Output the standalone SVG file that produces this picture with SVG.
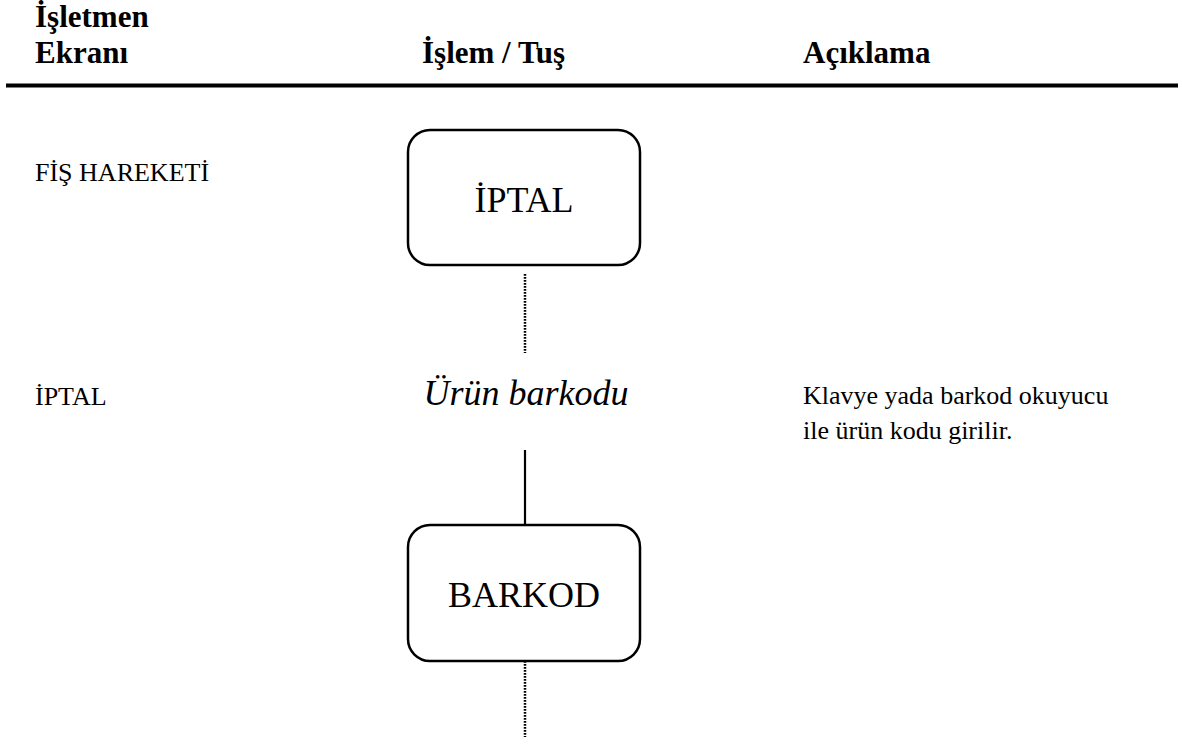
<svg xmlns="http://www.w3.org/2000/svg" width="1182" height="745" viewBox="0 0 1182 745">
<style>
  .h { font-family: "Liberation Serif", "Times New Roman", serif; font-weight: bold; font-size: 31px; fill: #000; }
  .t { font-family: "Liberation Serif", "Times New Roman", serif; font-size: 26px; fill: #000; }
  .big { font-family: "Liberation Serif", "Times New Roman", serif; font-size: 36px; fill: #000; }
  .it { font-family: "Liberation Serif", "Times New Roman", serif; font-size: 36px; font-style: italic; fill: #000; }
  .box { fill: #fff; stroke: #000; stroke-width: 2.5; }
  .solid { stroke: #000; stroke-width: 2.2; fill: none; }
  .dot { stroke: #000; stroke-width: 2.5; stroke-dasharray: 1.8 1.2; fill: none; }
</style>
<rect x="0" y="0" width="1182" height="745" fill="#fff"/>
<g id="header">
  <text class="h" x="35" y="27">İşletmen</text>
  <text class="h" x="35" y="63">Ekranı</text>
  <text class="h" x="422" y="63">İşlem / Tuş</text>
  <text class="h" x="803" y="63">Açıklama</text>
  <line x1="6" y1="85.5" x2="1178" y2="85.5" stroke="#000" stroke-width="4"/>
</g>
<g id="labels">
  <text class="t" x="35" y="181">FİŞ HAREKETİ</text>
  <text class="t" x="35" y="405">İPTAL</text>
  <text class="t" x="803" y="404">Klavye yada barkod okuyucu</text>
  <text class="t" x="803" y="439">ile ürün kodu girilir.</text>
</g>
<g id="connectors">
  <line class="dot" x1="525" y1="274" x2="525" y2="353"/>
  <line class="solid" x1="525" y1="450" x2="525" y2="525"/>
  <line class="dot" x1="525" y1="661" x2="525" y2="737"/>
</g>
<g id="node-iptal">
  <rect class="box" x="408" y="130" width="232" height="135" rx="22" ry="22"/>
  <text class="big" x="524" y="212" text-anchor="middle">İPTAL</text>
</g>
<g id="node-urun-barkodu">
  <text class="it" x="526" y="405" text-anchor="middle">Ürün barkodu</text>
</g>
<g id="node-barkod">
  <rect class="box" x="408" y="525" width="232" height="136" rx="22" ry="22"/>
  <text class="big" x="524" y="607" text-anchor="middle">BARKOD</text>
</g>
</svg>
